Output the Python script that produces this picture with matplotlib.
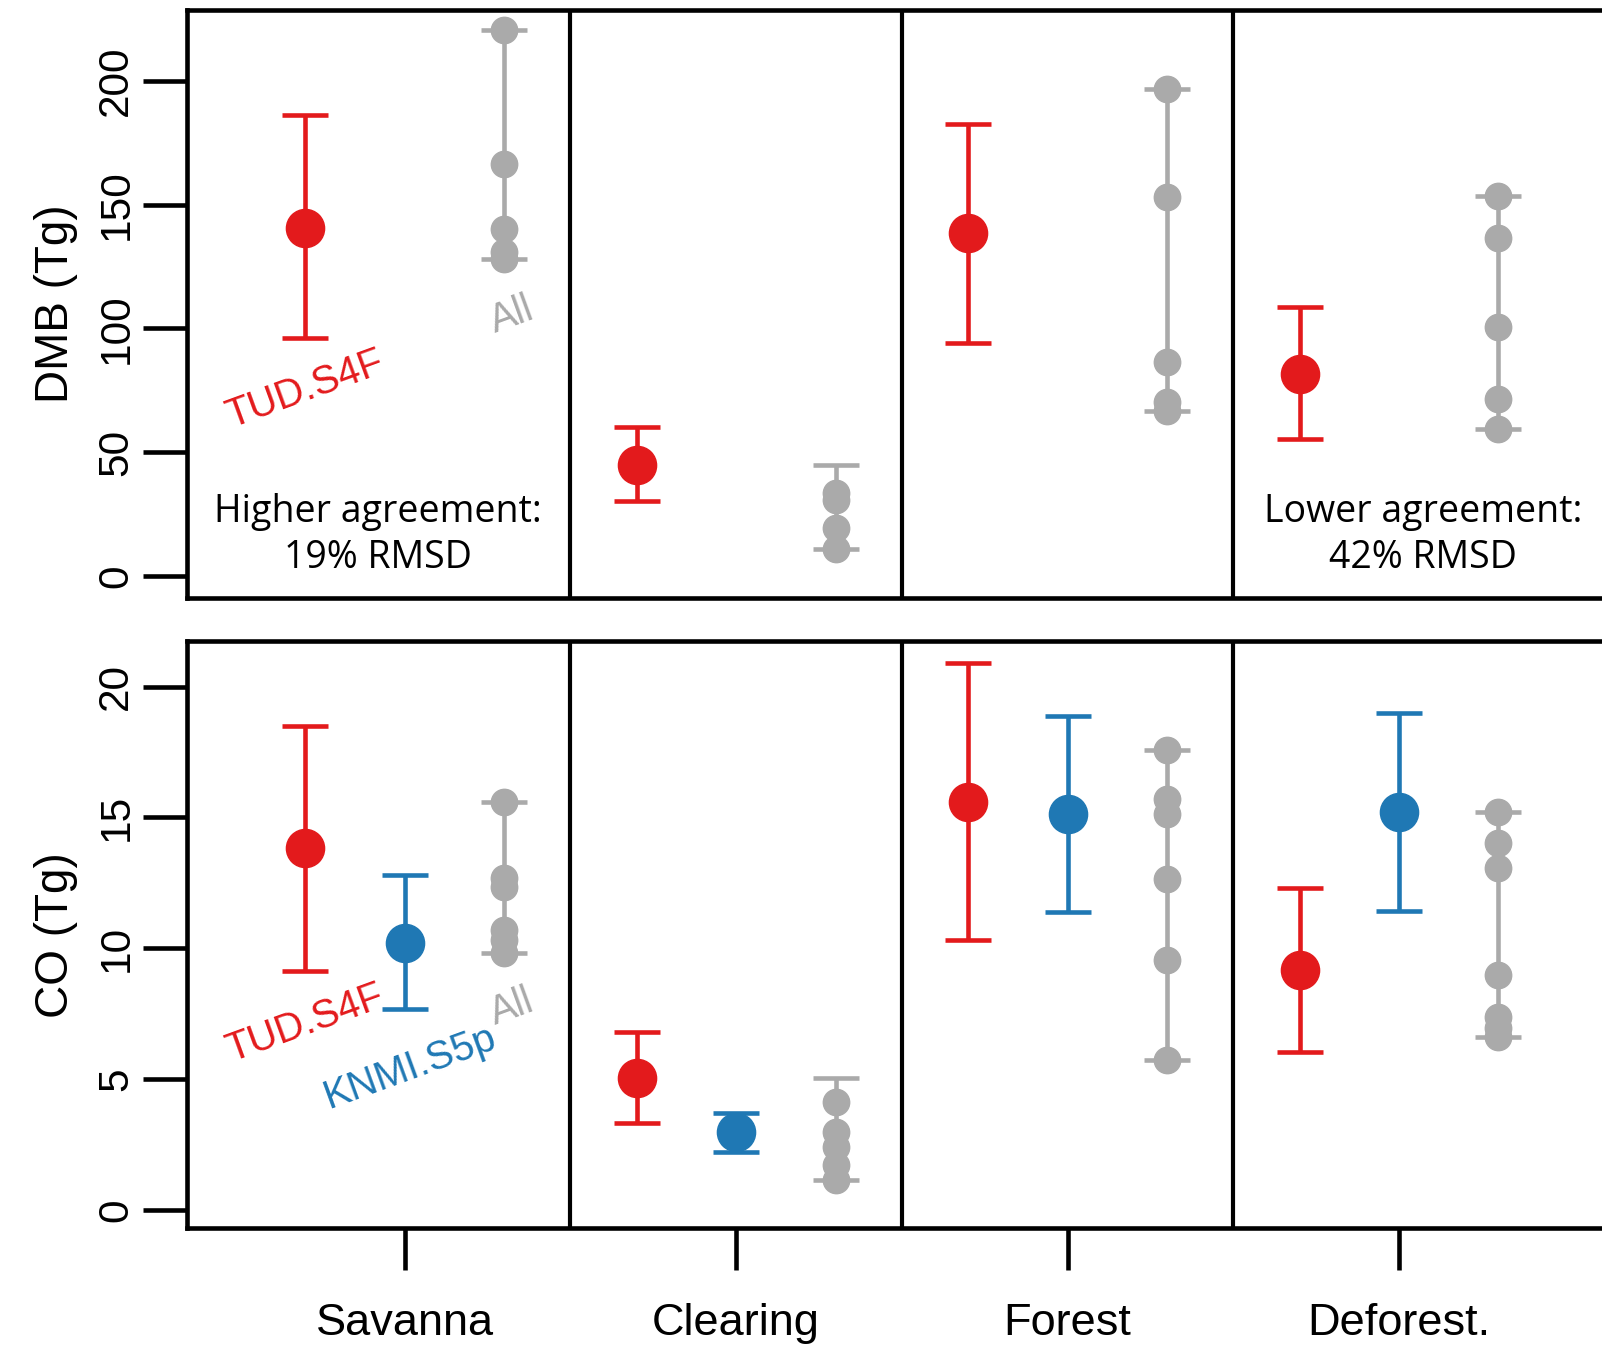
import numpy as np
import matplotlib
matplotlib.use("Agg")
import matplotlib.pyplot as plt

plt.rcParams['font.family'] = ['Liberation Sans', 'DejaVu Sans']

# categories on the x axis
cats = ['Savanna', 'Clearing', 'Forest', 'Deforest.']

# DMB (Tg): TUD.S4F estimate with uncertainty range
dmb_tud = [140.6, 45.0, 138.6, 81.8]
dmb_tud_lo = [96.1, 30.5, 94.0, 55.3]
dmb_tud_hi = [186.0, 60.2, 182.7, 108.5]
# DMB (Tg): all inventories, individual values and overall range
dmb_all = [[220.3, 166.4, 140.0, 131.0, 128.0],
           [33.4, 30.9, 19.4, 10.9],
           [196.8, 153.2, 86.6, 70.2, 66.6],
           [153.4, 136.4, 100.6, 71.5, 59.4]]
dmb_all_lo = [128.0, 10.9, 66.6, 59.4]
dmb_all_hi = [220.3, 45.0, 196.8, 153.4]

# CO (Tg)
co_tud = [13.84, 5.05, 15.59, 9.16]
co_tud_lo = [9.12, 3.31, 10.31, 6.02]
co_tud_hi = [18.49, 6.79, 20.90, 12.31]
co_knmi = [10.21, 2.97, 15.13, 15.22]
co_knmi_lo = [7.67, 2.22, 11.38, 11.43]
co_knmi_hi = [12.78, 3.70, 18.88, 18.98]
co_all = [[15.6, 12.7, 12.34, 10.69, 10.3, 9.8],
          [4.12, 2.98, 2.41, 1.71, 1.15],
          [17.56, 15.72, 15.15, 12.63, 9.55, 5.72],
          [15.22, 14.01, 13.05, 8.97, 7.38, 6.95, 6.6]]
co_all_lo = [9.8, 1.15, 5.72, 6.6]
co_all_hi = [15.6, 5.05, 17.56, 15.22]

RED = '#e31a1c'
BLUE = '#1f78b4'
GREY = '#aaaaaa'

pos = np.arange(1, len(cats) + 1)
off = 0.3


def estimate(ax, x, mid, lo, hi, col):
    mid = np.array(mid)
    err = [mid - np.array(lo), np.array(hi) - mid]
    ax.errorbar(x, mid, yerr=err, fmt='o', color=col, ms=27.5, elinewidth=3.3,
                capsize=16.5, capthick=3.3, zorder=3)


def inventories(ax, x, pts, lo, hi):
    lo = np.array(lo)
    hi = np.array(hi)
    ax.errorbar(x, lo, yerr=[np.zeros_like(lo), hi - lo], fmt='none', ecolor=GREY,
                elinewidth=3.3, capsize=16.5, capthick=3.3, zorder=2)
    for xi, p in zip(x, pts):
        ax.plot([xi] * len(p), p, 'o', color=GREY, ms=19, zorder=2)


fig = plt.figure(figsize=(16.02, 13.47), dpi=100)
ax_top = fig.add_axes([0.1167, 0.5563, 0.8925, 0.4361])
ax_bot = fig.add_axes([0.1167, 0.0883, 0.8925, 0.4361])

estimate(ax_top, pos - off, dmb_tud, dmb_tud_lo, dmb_tud_hi, RED)
inventories(ax_top, pos + off, dmb_all, dmb_all_lo, dmb_all_hi)

estimate(ax_bot, pos - off, co_tud, co_tud_lo, co_tud_hi, RED)
estimate(ax_bot, pos, co_knmi, co_knmi_lo, co_knmi_hi, BLUE)
inventories(ax_bot, pos + off, co_all, co_all_lo, co_all_hi)

for ax in (ax_top, ax_bot):
    ax.set_xlim(0.343, 4.657)
    for s in ax.spines.values():
        s.set_linewidth(3.3)
    for b in pos[:-1] + 0.5:
        ax.axvline(b, color='black', lw=3.0, zorder=1)
    ax.tick_params(axis='y', length=31.5, width=3.3, labelsize=30.5,
                   labelrotation=90, pad=5)

ax_top.set_ylim(-8.66, 228.45)
ax_top.set_yticks([0, 50, 100, 150, 200])
ax_top.set_xticks([])
plt.setp(ax_top.get_yticklabels(), va='center', ha='right')

ax_bot.set_ylim(-0.70, 21.76)
ax_bot.set_yticks([0, 5, 10, 15, 20])
plt.setp(ax_bot.get_yticklabels(), va='center', ha='right')
ax_bot.set_xticks(pos, labels=cats)
ax_bot.tick_params(axis='x', length=30, width=3.3, labelsize=32.5, pad=24)

fig.text(56 / 1602, 0.7743, 'DMB (Tg)', rotation=90, ha='center', va='center', fontsize=33)
fig.text(56 / 1602, 0.3059, 'CO (Tg)', rotation=90, ha='center', va='center', fontsize=33)

# series labels
ax_top.text(0.699, 75.2, 'TUD.S4F', color=RED, fontsize=28.5, rotation=20, ha='center', va='center')
ax_top.text(1.324, 105.4, 'All', color=GREY, fontsize=28.5, rotation=20, ha='center', va='center')
ax_bot.text(0.699, 7.14, 'TUD.S4F', color=RED, fontsize=28.5, rotation=20, ha='center', va='center')
ax_bot.text(1.016, 5.46, 'KNMI.S5p', color=BLUE, fontsize=28.5, rotation=20, ha='center', va='center')
ax_bot.text(1.324, 7.75, 'All', color=GREY, fontsize=28.5, rotation=20, ha='center', va='center')

# agreement notes
ax_top.text(0.919, 16.6, 'Higher agreement:\n19% RMSD', family='Open Sans', fontsize=27,
            ha='center', va='center', linespacing=1.3)
ax_top.text(4.073, 16.6, 'Lower agreement:\n42% RMSD', family='Open Sans', fontsize=27,
            ha='center', va='center', linespacing=1.3)

fig.savefig('out.png', dpi=100)
